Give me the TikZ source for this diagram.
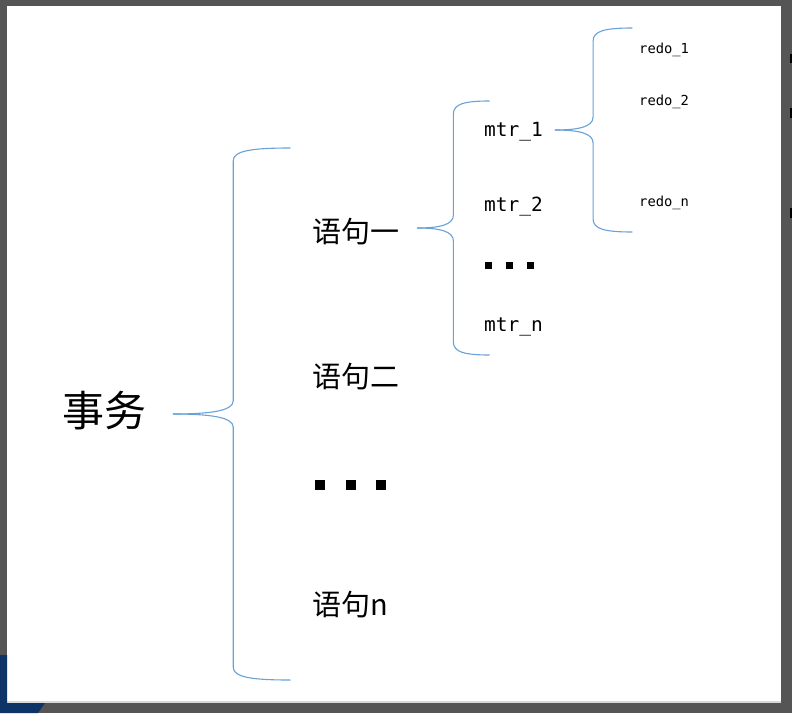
\documentclass[tikz,border=0pt]{standalone}
\usepackage{fontspec}
\setmonofont{DejaVu Sans Mono}
\newfontfamily\cjk{Noto Sans CJK SC}
\usepackage{tikz}
\usetikzlibrary{calc,positioning}
\definecolor{bracecol}{RGB}{105,162,218}
\definecolor{framegray}{RGB}{85,85,85}
\definecolor{cornerblue}{RGB}{12,52,102}

\tikzset{
  brace line/.style={draw=bracecol, line width=1.1pt, line cap=round},
  big label/.style={inner sep=0pt, font=\cjk\fontsize{42}{42}\selectfont},
  stmt label/.style={inner sep=0pt, anchor=west, font=\cjk\fontsize{29}{29}\selectfont},
  mtr label/.style={inner sep=0pt, anchor=west, font=\ttfamily\fontsize{19.5}{19.5}\selectfont},
  redo label/.style={inner sep=0pt, anchor=west, font=\ttfamily\fontsize{13.8}{13.8}\selectfont},
}

% tip, spine dx, end dx, half height
\newcommand{\wbrace}[4]{%
  \foreach \s in {1,-1}
    \draw[brace line] (#1) .. controls ($(#1)+({0.6*#2},0)$) and ($(#1)+(#2,{-3*\s})$) .. ($(#1)+(#2,{-13*\s})$)
      -- ($(#1)+(#2,{-\s*(#4-13)})$) .. controls ($(#1)+(#2,{-\s*(#4-3)})$) and ($(#1)+({#2+0.3*(#3-#2)},{-\s*#4})$) .. ($(#1)+(#3,{-\s*#4})$);
}
\newcommand{\sqdots}[2]{\rule{#1pt}{#1pt}\hspace{#2pt}\rule{#1pt}{#1pt}\hspace{#2pt}\rule{#1pt}{#1pt}}

\begin{document}
\begin{tikzpicture}[x=1pt,y=-1pt]
  \useasboundingbox (0,0) rectangle (792,713);
  \fill[framegray] (0,0) rectangle (792,713);
  \fill[white] (7,6) rectangle (781,701);
  \fill[black!15] (7,701) rectangle (781,703);
  \fill[cornerblue] (0,655) -- (7,655) -- (7,703) -- (45,703) -- (38,713) -- (0,713) -- cycle;
  \fill[black] (790,54) rectangle (792,63);
  \fill[black] (790,108) rectangle (792,118);
  \fill[black] (790,208) rectangle (792,218);

  \node[big label] (tx) at (104,411) {事务};
  \node[stmt label] (s1) at (312,232) {语句一};
  \node[stmt label] (s2) at (312,377) {语句二};
  \node[inner sep=0pt, anchor=west] (sdots) at (315,485) {\sqdots{10}{20.5}};
  \node[stmt label] (sn) at (312,605) {语句n};

  \node[mtr label] (m1) at (484,132) {mtr\_1};
  \node[mtr label] (m2) at (484,207) {mtr\_2};
  \node[inner sep=0pt, anchor=west] (mdots) at (485,265) {\sqdots{7}{14}};
  \node[mtr label] (mn) at (484,327) {mtr\_n};

  \node[redo label] (r1) at (639,50) {redo\_1};
  \node[redo label] (r2) at (639,102) {redo\_2};
  \node[redo label] (rn) at (639,203) {redo\_n};

  \coordinate (tip1) at ($(tx.east)+(27,3)$);
  \coordinate (tip2) at ($(s1.east)+(18,-4)$);
  \coordinate (tip3) at ($(m1.east)+(12,-2)$);
  \wbrace{tip1}{60}{117}{266}
  \wbrace{tip2}{36}{72}{127}
  \wbrace{tip3}{38}{77}{102}
\end{tikzpicture}
\end{document}
